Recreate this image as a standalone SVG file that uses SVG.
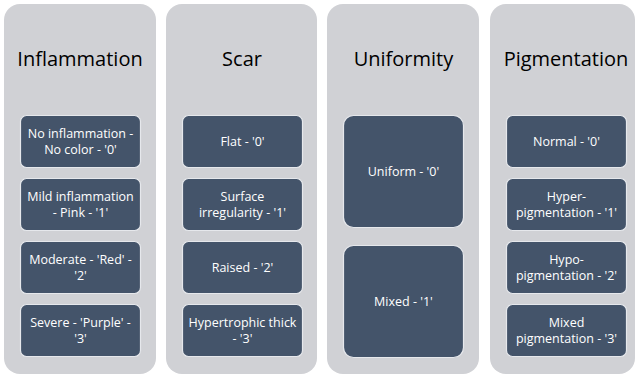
<svg xmlns="http://www.w3.org/2000/svg" width="637" height="377" viewBox="0 0 637 377">
<style>
.col{fill:#D0D1D5;}
.box{fill:#44546A;stroke:#E6E8EC;stroke-width:1.2;}
.title{font-family:"Open Sans","Noto Sans",sans-serif;font-size:20px;fill:#000;text-anchor:middle;}
.t{font-family:"Open Sans","Noto Sans",sans-serif;font-size:12.5px;fill:#FFFFFF;text-anchor:middle;}
</style>
<rect width="637" height="377" fill="#FFFFFF"/>
<g id="col-inflammation">
<rect class="col" x="4" y="4" width="152" height="370" rx="16"/>
<text class="title" x="80" y="66">Inflammation</text>
</g>
<g id="col-scar">
<rect class="col" x="166" y="4" width="151" height="370" rx="16"/>
<text class="title" x="242" y="66">Scar</text>
</g>
<g id="col-uniformity">
<rect class="col" x="327" y="4" width="152" height="370" rx="16"/>
<text class="title" x="403.5" y="66">Uniformity</text>
</g>
<g id="col-pigmentation">
<rect class="col" x="490" y="4" width="145" height="370" rx="16"/>
<text class="title" x="566" y="66">Pigmentation</text>
</g>
<g id="inf0"><rect class="box" x="20.5" y="115.5" width="120" height="52" rx="6"/><text class="t" x="80.5" y="138">No inflammation -</text><text class="t" x="80.5" y="154">No color - '0'</text></g>
<g id="inf1"><rect class="box" x="20.5" y="178.5" width="120" height="52" rx="6"/><text class="t" x="80.5" y="201">Mild inflammation</text><text class="t" x="80.5" y="217">- Pink - '1'</text></g>
<g id="inf2"><rect class="box" x="20.5" y="241.5" width="120" height="52" rx="6"/><text class="t" x="80.5" y="264">Moderate - 'Red' -</text><text class="t" x="80.5" y="280">'2'</text></g>
<g id="inf3"><rect class="box" x="20.5" y="304.5" width="120" height="52" rx="6"/><text class="t" x="80.5" y="327">Severe - 'Purple' -</text><text class="t" x="80.5" y="343">'3'</text></g>
<g id="scar0"><rect class="box" x="182.5" y="115.5" width="120" height="52" rx="6"/><text class="t" x="242.5" y="146">Flat - '0'</text></g>
<g id="scar1"><rect class="box" x="182.5" y="178.5" width="120" height="52" rx="6"/><text class="t" x="242.5" y="201">Surface</text><text class="t" x="242.5" y="217">irregularity - '1'</text></g>
<g id="scar2"><rect class="box" x="182.5" y="241.5" width="120" height="52" rx="6"/><text class="t" x="242.5" y="272">Raised - '2'</text></g>
<g id="scar3"><rect class="box" x="182.5" y="304.5" width="120" height="52" rx="6"/><text class="t" x="242.5" y="327">Hypertrophic thick</text><text class="t" x="242.5" y="343">- '3'</text></g>
<g id="uni0"><rect class="box" x="343.5" y="115.5" width="120" height="112" rx="10"/><text class="t" x="403.5" y="176">Uniform - '0'</text></g>
<g id="uni1"><rect class="box" x="343.5" y="245.5" width="120" height="112" rx="10"/><text class="t" x="403.5" y="306">Mixed - '1'</text></g>
<g id="pig0"><rect class="box" x="506.5" y="115.5" width="120" height="52" rx="6"/><text class="t" x="566.5" y="146">Normal - '0'</text></g>
<g id="pig1"><rect class="box" x="506.5" y="178.5" width="120" height="52" rx="6"/><text class="t" x="566.5" y="201">Hyper-</text><text class="t" x="566.5" y="217">pigmentation - '1'</text></g>
<g id="pig2"><rect class="box" x="506.5" y="241.5" width="120" height="52" rx="6"/><text class="t" x="566.5" y="264">Hypo-</text><text class="t" x="566.5" y="280">pigmentation - '2'</text></g>
<g id="pig3"><rect class="box" x="506.5" y="304.5" width="120" height="52" rx="6"/><text class="t" x="566.5" y="327">Mixed</text><text class="t" x="566.5" y="343">pigmentation - '3'</text></g>
<g id="connectors"></g>
</svg>
